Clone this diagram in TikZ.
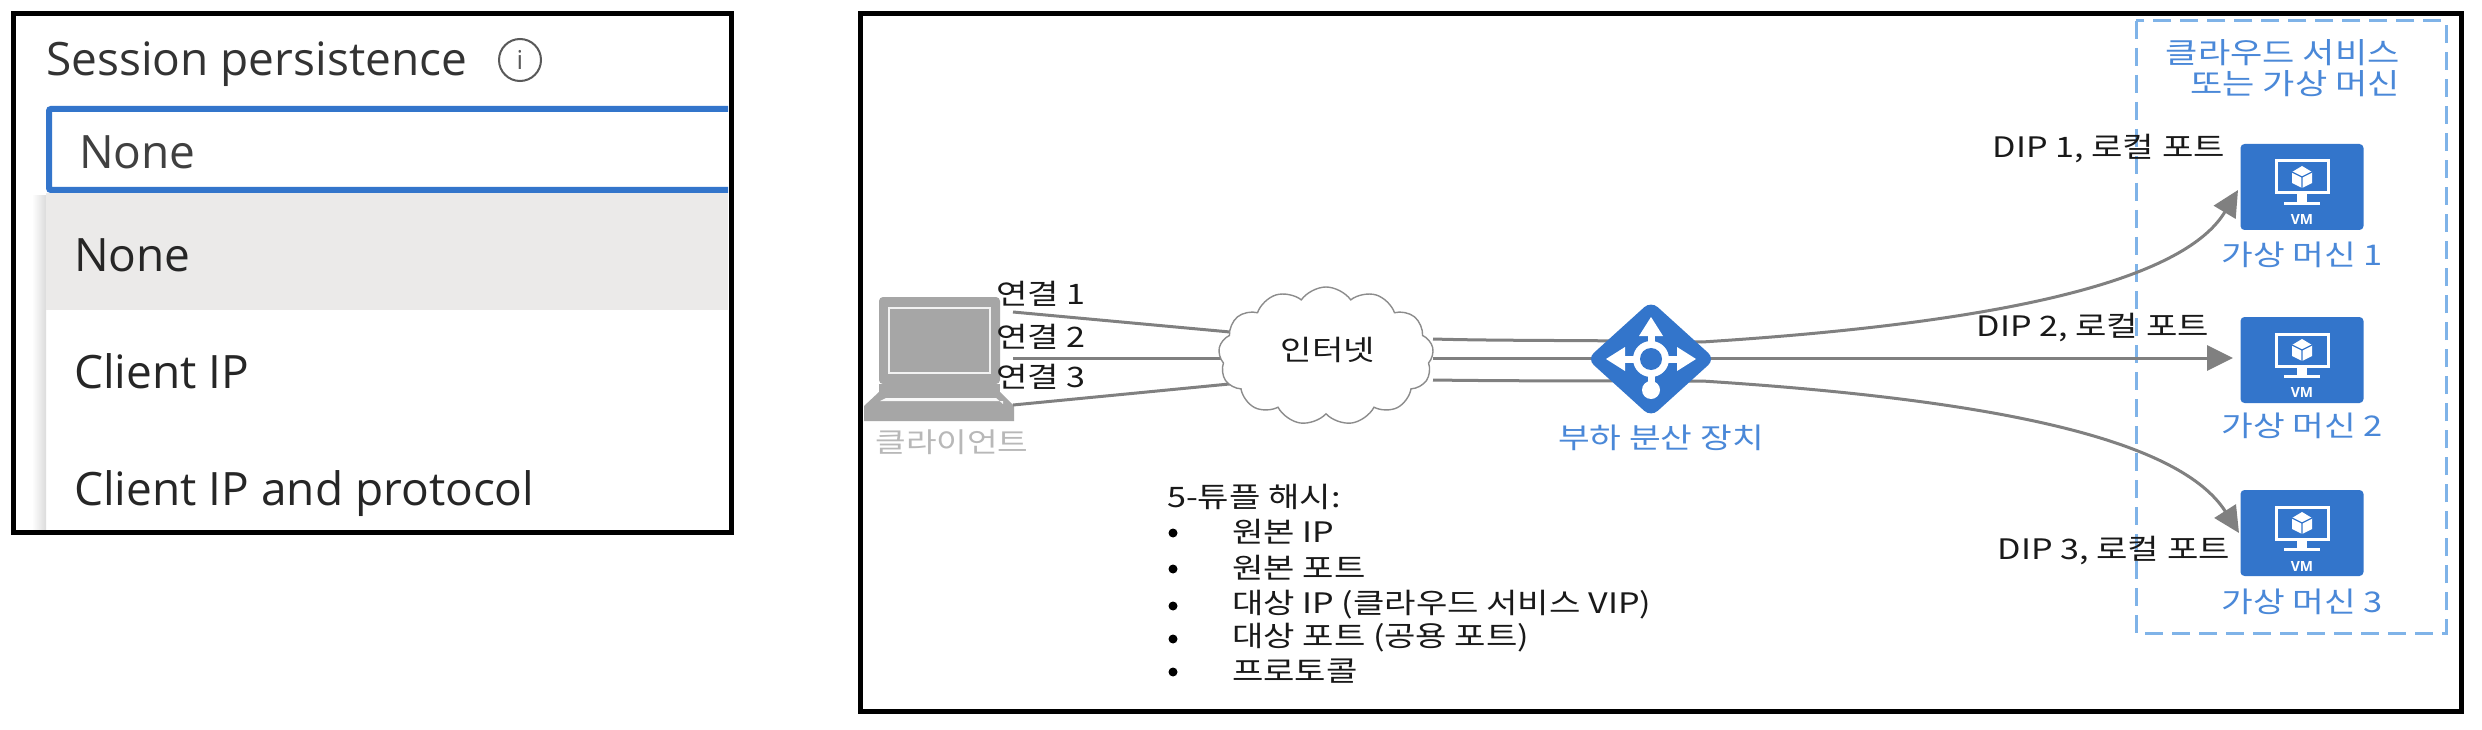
\documentclass[tikz,border=0pt]{standalone}
\usepackage{fontspec}
\setmainfont[FakeStretch=1.21]{Noto Sans CJK KR}
\newfontfamily\uifont{Open Sans}
\usetikzlibrary{arrows.meta,shapes.geometric,shapes.symbols}
\definecolor{azblue}{HTML}{3375CB}
\definecolor{azlight}{HTML}{4A88D8}
\definecolor{dashblue}{HTML}{7FB3E8}
\definecolor{lnk}{HTML}{808080}
\definecolor{lap}{HTML}{A6A6A6}
\definecolor{rowgray}{HTML}{EBEAE9}
\newcommand{\fsz}[1]{\fontsize{#1}{#1}\selectfont}
\tikzset{
  frame/.style={draw=black,line width=5pt,fill=white},
  uitext/.style={anchor=west,inner sep=0pt,font=\uifont\fsz{46},text=#1},
  ko/.style={inner sep=0pt,font=\fsz{28.2},text=black!90},
  kob/.style={inner sep=0pt,font=\fsz{28.5},text=azlight},
  link/.style={draw=lnk,line width=3pt},
  linkarrow/.style={link,-{Triangle[length=26pt,width=25pt]}},
  vmbox/.style={fill=azblue,rounded corners=4pt,minimum width=123pt,minimum height=86pt,inner sep=0pt}
}
\newcommand{\vmicon}[3]{%
  \node[vmbox] (#1) at (#2,#3) {};
  \begin{scope}[shift={(#2,#3)}]
    \draw[white,line width=3pt] (-26,-26) rectangle (26,6);
    \fill[white] (-5,6) rectangle (5,15);
    \fill[white] (-18,15) rectangle (18,18);
    \fill[white] (0,-21) -- (10,-15) -- (10,-4) -- (0,1) -- (-10,-4) -- (-10,-15) -- cycle;
    \draw[azblue,line width=1.2pt] (-10,-15) -- (0,-10) -- (10,-15) (0,-10) -- (0,1);
    \node[inner sep=0pt,text=white,font=\uifont\bfseries\fsz{14}] (#1t) at (0,33) {VM};
  \end{scope}}
\begin{document}
\begin{tikzpicture}[x=1pt,y=-1pt]
\useasboundingbox (0,0) rectangle (2482,730);
\fill[white] (0,0) rectangle (2482,730);

% left panel
\draw[frame] (13,14) rectangle (731,532);
\shade[left color=white,right color=black!14] (32,196) rectangle (46,529);
\fill[rowgray] (46,193) rectangle (728,310);
\draw[azblue,line width=6pt,rounded corners=2pt] (728,109) -- (49,109) -- (49,190) -- (728,190);
\node[uitext=black!80] (title) at (46,64) {Session persistence};
\node[draw=black!65,circle,line width=2pt,minimum size=42pt,inner sep=0pt,font=\uifont\fsz{26},text=black!65] (info) at (520,60) {i};
\node[uitext=black!75] (val) at (79,152) {None};
\node[uitext=black!85] (opt1) at (74,255) {None};
\node[uitext=black!85] (opt2) at (74,371) {Client IP};
\node[uitext=black!85] (opt3) at (74,494) {Client IP and protocol};

% right panel
\draw[frame] (860,14) rectangle (2461,711);
\draw[dashblue,line width=3pt,dash pattern=on 18pt off 9pt] (2136,21) rectangle (2446,633);
\node[kob,align=right,anchor=east,font=\fsz{29}] (hdr) at (2400,68) {클라우드 서비스\\[1.5pt]또는 가상 머신};

% laptop
\fill[lap,rounded corners=4pt] (879,297) rectangle (1000,384);
\draw[white!85!lap,line width=2pt] (889,308) rectangle (990,373);
\fill[lap] (879,384) rectangle (1000,392);
\fill[lap] (879,392) -- (1000,392) -- (1014,406) -- (1014,421) -- (864,421) -- (864,406) -- cycle;
\fill[white!92!lap] (886,398) -- (996,398) -- (1003,404) -- (1003,401) -- (880,401) -- cycle;
\node[draw=none,inner sep=0pt,minimum width=150pt,minimum height=125pt] (client) at (939,359) {};
\node[inner sep=0pt,font=\fsz{27.5},text=black!28] (clientlbl) at (952,442) {클라이언트};

% cloud and nodes
\coordinate (a1) at (1013,312);
\coordinate (a2) at (1013,358);
\coordinate (a3) at (1013,405);
\coordinate (b1) at (1230,332);
\coordinate (b2) at (1230,358);
\coordinate (b3) at (1250,382);
\draw[link] (a1) -- (b1);
\draw[link] (a2) -- (b2);
\draw[link] (a3) -- (b3);

\node[cloud,cloud puffs=13,cloud puff arc=110,aspect=1.55,draw=black!45,line width=1.4pt,fill=white,minimum width=215pt,minimum height=138pt,inner sep=0pt] (net) at (1326,356) {};
\node[ko] (netlbl) at (1328,350) {인터넷};

\coordinate (c1) at (1433,339);
\coordinate (c2) at (1433,358);
\coordinate (c3) at (1433,380);
\coordinate (d1) at (1702,342);
\coordinate (d2) at (1702,358);
\coordinate (d3) at (1702,381);
\draw[link] (c1) .. controls (1500,341) and (1600,340) .. (d1);
\draw[link] (c2) -- (d2);
\draw[link] (c3) .. controls (1500,381) and (1600,381) .. (d3);

\vmicon{vm1}{2302}{187}
\vmicon{vm2}{2302}{360}
\vmicon{vm3}{2302}{533}

\draw[linkarrow] (d1) .. controls (2050,320) and (2190,270) .. (2238,190);
\draw[linkarrow] (d2) -- (2233,358);
\draw[linkarrow] (d3) .. controls (2000,400) and (2180,440) .. (2239,533);

% load balancer
\node[diamond,fill=azblue,rounded corners=9pt,minimum width=128pt,minimum height=116pt,inner sep=0pt] (lb) at (1651,359) {};
\begin{scope}[shift={(1651,359)}]
  \draw[white,line width=7pt] (0,-32) -- (0,30) (-34,0) -- (34,0);
  \fill[white] (0,-42) -- (-12,-23) -- (12,-23) -- cycle;
  \fill[white] (-45,0) -- (-26,-12) -- (-26,12) -- cycle;
  \fill[white] (45,0) -- (26,-12) -- (26,12) -- cycle;
  \fill[white] (0,31) circle (9pt);
  \fill[white] (0,0) circle (18pt);
  \fill[azblue] (0,0) circle (11pt);
\end{scope}
\node[kob] (lblb) at (1661,438) {부하 분산 장치};

% connection labels
\node[ko,anchor=west] (l1) at (996,294) {연결 1};
\node[ko,anchor=west] (l2) at (996,337) {연결 2};
\node[ko,anchor=west] (l3) at (996,377) {연결 3};

% DIP labels
\node[ko,anchor=east] (dip1) at (2225,149) {DIP 1, 로컬 포트};
\node[ko,anchor=east] (dip2) at (2209,328) {DIP 2, 로컬 포트};
\node[ko,anchor=east] (dip3) at (2230,551) {DIP 3, 로컬 포트};

% VM labels
\node[kob] (v1) at (2302,255) {가상 머신 1};
\node[kob] (v2) at (2302,426) {가상 머신 2};
\node[kob] (v3) at (2302,602) {가상 머신 3};

% hash list
\node[ko,anchor=west] (hash) at (1167,497) {5-튜플 해시:};
\foreach \n/\y/\t in {a/532/원본 IP,b/568/원본 포트,c/605/대상 IP (클라우드 서비스 VIP),d/638/대상 포트 {(}공용 포트{)},e/671/프로토콜}{
  \node[fill=black,circle,inner sep=0pt,minimum size=9pt] (dot\n) at (1173,\y+1) {};
  \node[ko,anchor=west] (it\n) at (1232,\y) {\t};
}
\end{tikzpicture}
\end{document}
